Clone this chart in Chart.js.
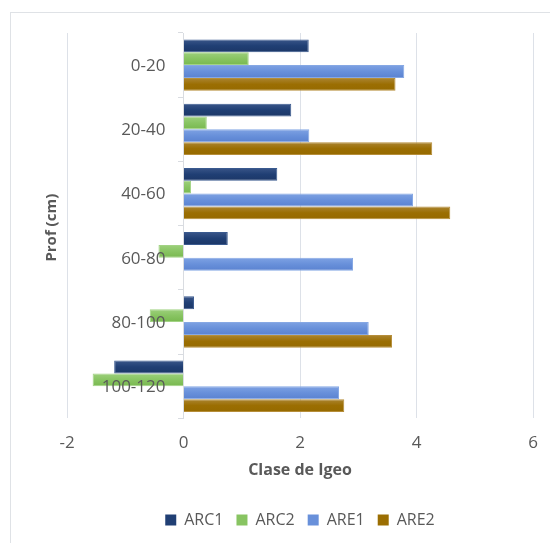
<!DOCTYPE html>
<html>
<head>
<meta charset="utf-8">
<script src="https://cdn.jsdelivr.net/npm/chart.js@4"></script>
<style>
  html, body { margin: 0; padding: 0; background: #ffffff; overflow: hidden; }
  #frame { position: absolute; left: 10px; top: 12px; width: 700px; height: 700px; border: 1px solid #dfe2e6; box-sizing: border-box; }
  #wrap { position: absolute; left: 0; top: 0; width: 550px; height: 543px; }
</style>
</head>
<body>
<div id="frame"></div>
<div id="wrap"><canvas id="c" width="550" height="543"></canvas></div>
<script>
const categories = ['0-20', '20-40', '40-60', '60-80', '80-100', '100-120'];
const seriesNames = ['ARC1', 'ARC2', 'ARE1', 'ARE2'];
const arc1 = [2.15, 1.85, 1.61, 0.76, 0.18, -1.19];
const arc2 = [1.12, 0.40, 0.13, -0.43, -0.58, -1.56];
const are1 = [3.79, 2.16, 3.94, 2.91, 3.18, 2.67];
const are2 = [3.64, 4.27, 4.58, null, 3.58, 2.76];
const xTicks = [-2, 0, 2, 4, 6];
const xTitle = 'Clase de Igeo';
const yTitle = 'Prof (cm)';

const colors = ['#203f74', '#88c462', '#6890da', '#9b6e02'];
const topColors = ['#3a5689', '#9dd07c', '#7ea2e3', '#ab8532'];
const bottomColors = ['#1c3767', '#78b84f', '#5a82d0', '#966a00'];
const borders = ['#3a5a8f', '#a2d384', '#86a8e4', '#b68e3a'];

const FONT = "'Open Sans', sans-serif";
Chart.defaults.font.family = FONT;
Chart.defaults.color = '#595959';

function barFill(ctx) {
  const i = ctx.datasetIndex;
  const el = ctx.element;
  if (!el || el.y == null || el.height == null || isNaN(el.y)) return colors[i];
  const c = ctx.chart.ctx;
  const g = c.createLinearGradient(0, el.y - el.height / 2, 0, el.y + el.height / 2);
  g.addColorStop(0, topColors[i]);
  g.addColorStop(0.5, colors[i]);
  g.addColorStop(1, bottomColors[i]);
  return g;
}

// Draws the y-axis title at the far left and the category labels next to the x=0 axis
const axisTextPlugin = {
  id: 'axisText',
  afterDraw(chart) {
    const ctx = chart.ctx;
    const a = chart.chartArea;
    const xs = chart.scales.x, ys = chart.scales.y;
    ctx.save();
    ctx.font = "17px " + FONT;
    ctx.fillStyle = '#595959';
    ctx.textAlign = 'right';
    ctx.textBaseline = 'middle';
    const x0 = xs.getPixelForValue(0) - 5 - 13;
    chart.data.labels.forEach((lab, i) => {
      ctx.fillText(lab, x0, ys.getPixelForTick(i) + 1);
    });
    ctx.translate(52, (a.top + a.bottom) / 2 + 2);
    ctx.rotate(-Math.PI / 2);
    ctx.font = "bold 15px " + FONT;
    ctx.textAlign = 'center';
    ctx.fillText(yTitle, 0, 0);
    ctx.restore();
  }
};

const data = {
  labels: categories,
  datasets: [arc1, arc2, are1, are2].map((vals, i) => ({
    label: seriesNames[i],
    data: vals,
    backgroundColor: barFill,
    borderColor: borders[i],
    borderWidth: 1,
    categoryPercentage: 0.8,
    barPercentage: 1.0
  }))
};

const chart = new Chart(document.getElementById('c'), {
  type: 'bar',
  data,
  plugins: [axisTextPlugin],
  options: {
    indexAxis: 'y',
    responsive: false,
    animation: false,
    layout: { padding: { left: 67, right: 17, top: 33, bottom: 5 } },
    scales: {
      x: {
        min: -2, max: 6,
        afterBuildTicks(scale) { scale.ticks = xTicks.map(v => ({ value: v })); },
        grid: { color: '#dde1e8', lineWidth: 1, drawTicks: true, tickLength: 15, tickColor: 'rgba(0,0,0,0)' },
        border: { display: false },
        ticks: { font: { size: 17 }, padding: 0, color: '#595959' },
        title: { display: true, text: xTitle, font: { size: 16, weight: 'bold' }, color: '#595959', padding: { top: 7, bottom: 19 } }
      },
      y: {
        position: { x: 0 },
        grid: { display: true, drawOnChartArea: false, drawTicks: true, tickLength: 5, color: '#d9dce1', offset: true },
        border: { display: true, color: '#d9dce1' },
        ticks: { display: false }
      }
    },
    plugins: {
      legend: {
        position: 'bottom',
        labels: {
          boxWidth: 11, boxHeight: 11, padding: 13, font: { size: 16 }, color: '#595959',
          generateLabels(ch) {
            return ch.data.datasets.map((ds, i) => ({
              text: ds.label, fillStyle: colors[i], strokeStyle: colors[i], lineWidth: 0,
              hidden: !ch.isDatasetVisible(i), datasetIndex: i, fontColor: '#595959'
            }));
          }
        }
      },
      tooltip: { enabled: false }
    }
  }
});
chart.update();
</script>
</body>
</html>
